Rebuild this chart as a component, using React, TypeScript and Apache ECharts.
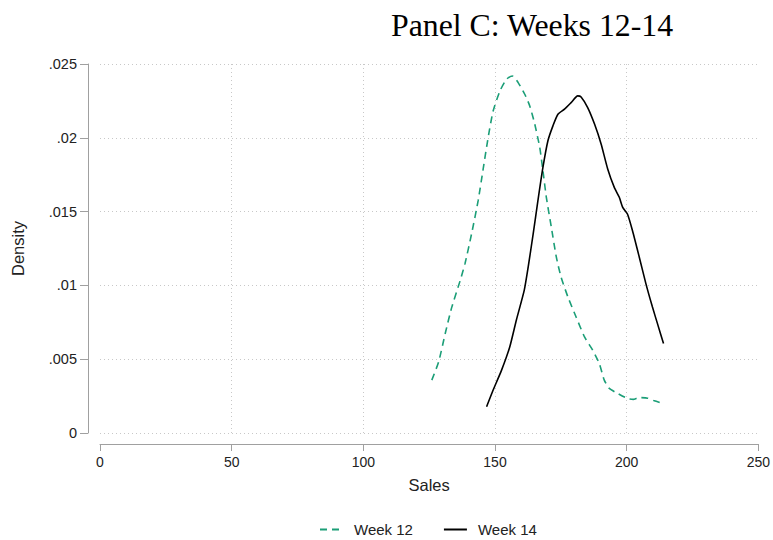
import React, { useEffect, useRef } from "react";
import * as echarts from "echarts";

const week12X = [126.0, 128.6, 131.1, 133.6, 136.8, 138.6, 141.1, 143.6, 145.6, 147.4, 149.3, 151.9, 154.4, 156.6, 158.8, 161.3, 163.2, 165.1, 167.0, 168.2, 169.5, 171.4, 173.3, 175.1, 177.7, 180.8, 184.0, 187.1, 189.6, 191.5, 193.4, 196.6, 200.3, 202.5, 204.8, 208.0, 210.5, 213.6];
const week12Y = [0.00358, 0.00482, 0.00674, 0.00853, 0.01034, 0.01147, 0.01349, 0.01574, 0.01799, 0.02002, 0.02182, 0.02318, 0.02397, 0.02419, 0.02374, 0.02295, 0.02216, 0.02093, 0.01934, 0.01777, 0.01597, 0.01394, 0.01191, 0.01056, 0.00921, 0.00786, 0.00651, 0.00561, 0.00471, 0.00358, 0.00302, 0.00268, 0.00234, 0.00228, 0.00240, 0.00236, 0.00218, 0.00201];

const week14X = [146.8, 149.3, 152.5, 155.6, 158.1, 161.1, 162.6, 164.5, 166.3, 168.2, 170.1, 172.0, 173.9, 176.4, 178.9, 181.4, 182.7, 185.2, 187.8, 190.3, 192.8, 195.3, 197.2, 198.5, 200.3, 202.2, 204.8, 207.3, 209.8, 211.7, 214.0];
const week14Y = [0.00178, 0.00291, 0.00426, 0.00583, 0.00764, 0.00966, 0.01124, 0.01349, 0.01574, 0.01799, 0.0198, 0.02081, 0.0216, 0.02194, 0.02238, 0.02284, 0.02277, 0.02205, 0.02093, 0.01958, 0.01789, 0.01664, 0.01597, 0.01529, 0.01484, 0.01372, 0.01191, 0.01012, 0.00853, 0.00741, 0.00606];

const yTickLabels = ["0", ".005", ".01", ".015", ".02", ".025"];
const seriesNames = ["Week 12", "Week 14"];

export default function App() {
  const ref = useRef<HTMLDivElement>(null);
  useEffect(() => {
    const chart = echarts.init(ref.current!, null, { renderer: "svg" });
    const font = "Liberation Sans, Arial, sans-serif";
    chart.setOption({
      animation: false,
      backgroundColor: "#fff",
      title: {
        text: "Panel C: Weeks 12-14",
        left: 386,
        top: 4,
        textStyle: { fontFamily: "Liberation Serif, Times New Roman, serif", fontSize: 31.8, fontWeight: "normal", color: "#000" },
      },
      grid: { left: 100, right: 12, top: 64, bottom: 107, containLabel: false },
      legend: {
        left: 314,
        top: 517,
        itemWidth: 23,
        itemHeight: 10,
        itemGap: 30,
        itemStyle: { color: "rgba(0,0,0,0)", borderWidth: 0 },
        textStyle: { fontFamily: font, fontSize: 15, color: "#222", padding: [0, 0, 0, 6] },
        data: seriesNames,
      },
      xAxis: {
        type: "value",
        min: 0,
        max: 250,
        interval: 50,
        offset: 11,
        name: "Sales",
        nameLocation: "middle",
        nameGap: 32,
        nameTextStyle: { fontFamily: font, fontSize: 16.5, color: "#222" },
        axisLine: { show: true, onZero: false, lineStyle: { color: "#a0a0a0", width: 1 } },
        axisTick: { show: true, length: 7, lineStyle: { color: "#a0a0a0" } },
        axisLabel: { fontFamily: font, fontSize: 14, color: "#222", margin: 11 },
        splitLine: {
          show: true,
          lineStyle: { type: [1, 3], color: ["rgba(0,0,0,0)", "#c8c8c8", "#c8c8c8", "#c8c8c8", "#c8c8c8", "rgba(0,0,0,0)"], width: 1 },
        },
      },
      yAxis: {
        type: "value",
        min: 0,
        max: 0.025,
        interval: 0.005,
        offset: 12,
        name: "Density",
        nameLocation: "middle",
        nameGap: 62,
        nameTextStyle: { fontFamily: font, fontSize: 16.5, color: "#222" },
        axisLine: { show: true, onZero: false, lineStyle: { color: "#a0a0a0", width: 1 } },
        axisTick: { show: true, length: 8, lineStyle: { color: "#a0a0a0" } },
        axisLabel: {
          fontFamily: font,
          fontSize: 14.5,
          color: "#222",
          margin: 11,
          formatter: (v: number) => yTickLabels[Math.round(v / 0.005)] ?? "",
        },
        splitLine: { show: true, lineStyle: { type: [1, 3], color: "#c8c8c8", width: 1 } },
      },
      series: [
        {
          name: seriesNames[0],
          type: "line",
          symbol: "none",
          smooth: 0.2,
          color: "#1b9e77",
          lineStyle: { color: "#1b9e77", width: 1.6, type: [7, 5] },
          data: week12X.map((x, i) => [x, week12Y[i]]),
        },
        {
          name: seriesNames[1],
          type: "line",
          symbol: "none",
          smooth: 0.2,
          color: "#000",
          lineStyle: { color: "#000", width: 1.6 },
          data: week14X.map((x, i) => [x, week14Y[i]]),
        },
      ],
    });
    return () => chart.dispose();
  }, []);
  return <div ref={ref} style={{ width: 773, height: 540, position: "absolute", left: 0, top: 0 }} />;
}
